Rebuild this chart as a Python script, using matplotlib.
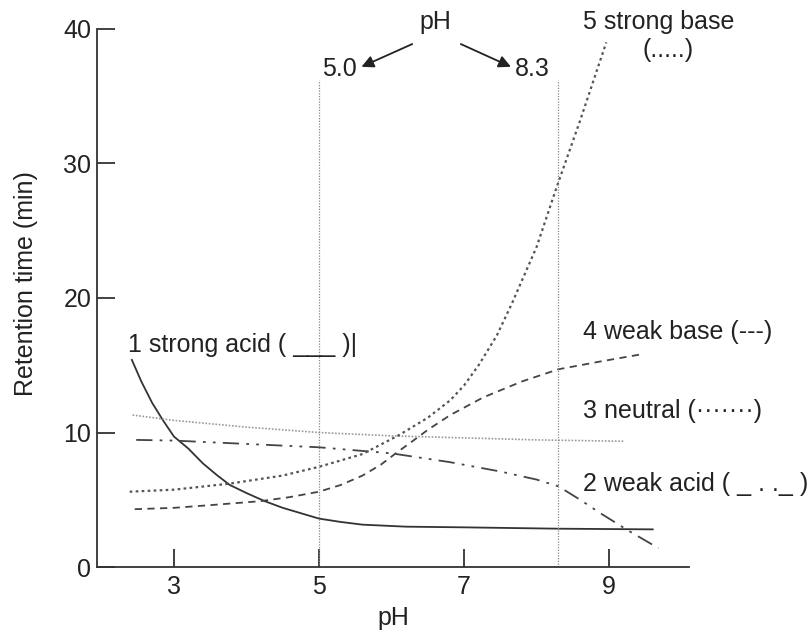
import matplotlib
matplotlib.use("Agg")
import matplotlib.pyplot as plt

plt.rcParams["font.family"] = ["Liberation Sans", "DejaVu Sans"]

# ---------------------------
# DATA
# ---------------------------
acid_ph = [2.42, 2.55, 2.7, 2.85, 3.0, 3.2, 3.4, 3.6, 3.77, 4.0, 4.25, 4.5, 4.75,
           5.0, 5.3, 5.6, 6.2, 7.0, 8.3, 9.6]
acid_rt = [15.4, 13.8, 12.2, 10.9, 9.7, 8.8, 7.7, 6.8, 6.1, 5.5, 4.9, 4.4, 4.0,
           3.6, 3.35, 3.15, 3.0, 2.95, 2.85, 2.8]

weak_acid_ph = [2.48, 3.0, 4.0, 5.0, 6.0, 6.8, 7.5, 8.0, 8.3, 8.6, 8.85, 9.25, 9.68]
weak_acid_rt = [9.45, 9.4, 9.15, 8.9, 8.45, 7.8, 7.1, 6.5, 6.0, 5.0, 4.1, 2.75, 1.4]

neutral_ph = [2.43, 3.0, 4.0, 5.0, 6.0, 7.0, 8.0, 9.2]
neutral_rt = [11.3, 10.9, 10.4, 10.0, 9.75, 9.6, 9.45, 9.35]

weak_base_ph = [2.46, 3.0, 3.5, 4.2, 4.6, 5.0, 5.3, 5.6, 5.85, 6.07, 6.3, 6.5, 6.81,
                7.26, 7.8, 8.3, 8.9, 9.43]
weak_base_rt = [4.3, 4.4, 4.6, 4.9, 5.2, 5.6, 6.1, 6.8, 7.6, 8.5, 9.4, 10.2, 11.3,
                12.6, 13.8, 14.7, 15.3, 15.8]

strong_base_ph = [2.39, 3.0, 3.77, 4.5, 5.0, 5.6, 6.1, 6.5, 6.81, 7.0, 7.2, 7.45, 7.66,
                  8.0, 8.28, 8.6, 8.96]
strong_base_rt = [5.6, 5.75, 6.2, 6.8, 7.45, 8.4, 9.8, 11.1, 12.4, 13.5, 15.0, 17.2, 19.6,
                  23.8, 28.3, 33.2, 39.0]

marked_ph = [5.0, 8.3]
marked_labels = ["5.0", "8.3"]

# ---------------------------
# PLOT
# ---------------------------
fig = plt.figure(figsize=(8.12, 6.32), dpi=100)
ax = fig.add_axes([0.1195, 0.1028, 0.729, 0.8972])

ax.plot(acid_ph, acid_rt, color="#333333", lw=1.3, ls="-")
ax.plot(weak_acid_ph, weak_acid_rt, color="#444444", lw=1.3, dashes=(9, 4, 1.5, 4, 1.5, 4))
ax.plot(neutral_ph, neutral_rt, color="#9a9a9a", lw=1.2, dashes=(1, 1))
ax.plot(weak_base_ph, weak_base_rt, color="#444444", lw=1.3, dashes=(4, 3))
ax.plot(strong_base_ph, strong_base_rt, color="#555555", lw=1.6, dashes=(1.2, 1.5))

for v in marked_ph:
    ax.plot([v, v], [0, 36.2], color="#888888", lw=0.9, dashes=(1, 1.2))

ax.set_xlim(1.94, 10.1)
ax.set_ylim(0, 42.15)
ax.set_xticks([3, 5, 7, 9])
ax.set_yticks([0, 10, 20, 30, 40])
ax.spines["top"].set_visible(False)
ax.spines["right"].set_visible(False)
ax.spines["left"].set_bounds(0, 40)
for s in ["left", "bottom"]:
    ax.spines[s].set_color("#333333")
    ax.spines[s].set_linewidth(1.3)
ax.tick_params(direction="in", length=13, width=1.3, color="#333333",
               labelsize=18, labelcolor="#222222")
ax.tick_params(axis="y", pad=4)
ax.tick_params(axis="x", pad=6)

ax.set_xlabel("pH", fontsize=18, color="#222222", labelpad=5)
ax.set_ylabel("Retention time (min)", fontsize=18, color="#222222", labelpad=18)

tc = "#222222"
fs = 18
ax.text(6.61, 40.5, "pH", fontsize=fs, color=tc, ha="center", va="center")
label_x = [5.04, 7.70]
for lx, lab in zip(label_x, marked_labels):
    ax.text(lx, 37.0, lab, fontsize=fs, color=tc, ha="left", va="center")
ax.annotate("", xy=(5.55, 37.1), xytext=(6.32, 38.96),
            arrowprops=dict(arrowstyle="-|>", color="#222222", lw=1.3, mutation_scale=18))
ax.annotate("", xy=(7.68, 37.1), xytext=(6.92, 38.96),
            arrowprops=dict(arrowstyle="-|>", color="#222222", lw=1.3, mutation_scale=18))

ax.text(8.64, 40.5, "5 strong base", fontsize=fs, color=tc, ha="left", va="center")
ax.text(9.81, 38.4, "(.....)", fontsize=fs, color=tc, ha="center", va="center")
ax.text(8.64, 17.5, "4 weak base (---)", fontsize=fs, color=tc, ha="left", va="center")
ax.text(8.64, 11.6, "3 neutral (\u00b7\u00b7\u00b7\u00b7\u00b7\u00b7\u00b7)", fontsize=fs, color=tc,
        ha="left", va="center")
ax.text(8.64, 6.2, "2 weak acid ( _ . ._ )", fontsize=fs, color=tc, ha="left", va="center")
ax.text(2.37, 16.5, "1 strong acid ( ___ )|", fontsize=fs, color=tc, ha="left", va="center")

fig.savefig("out.png", dpi=100)
